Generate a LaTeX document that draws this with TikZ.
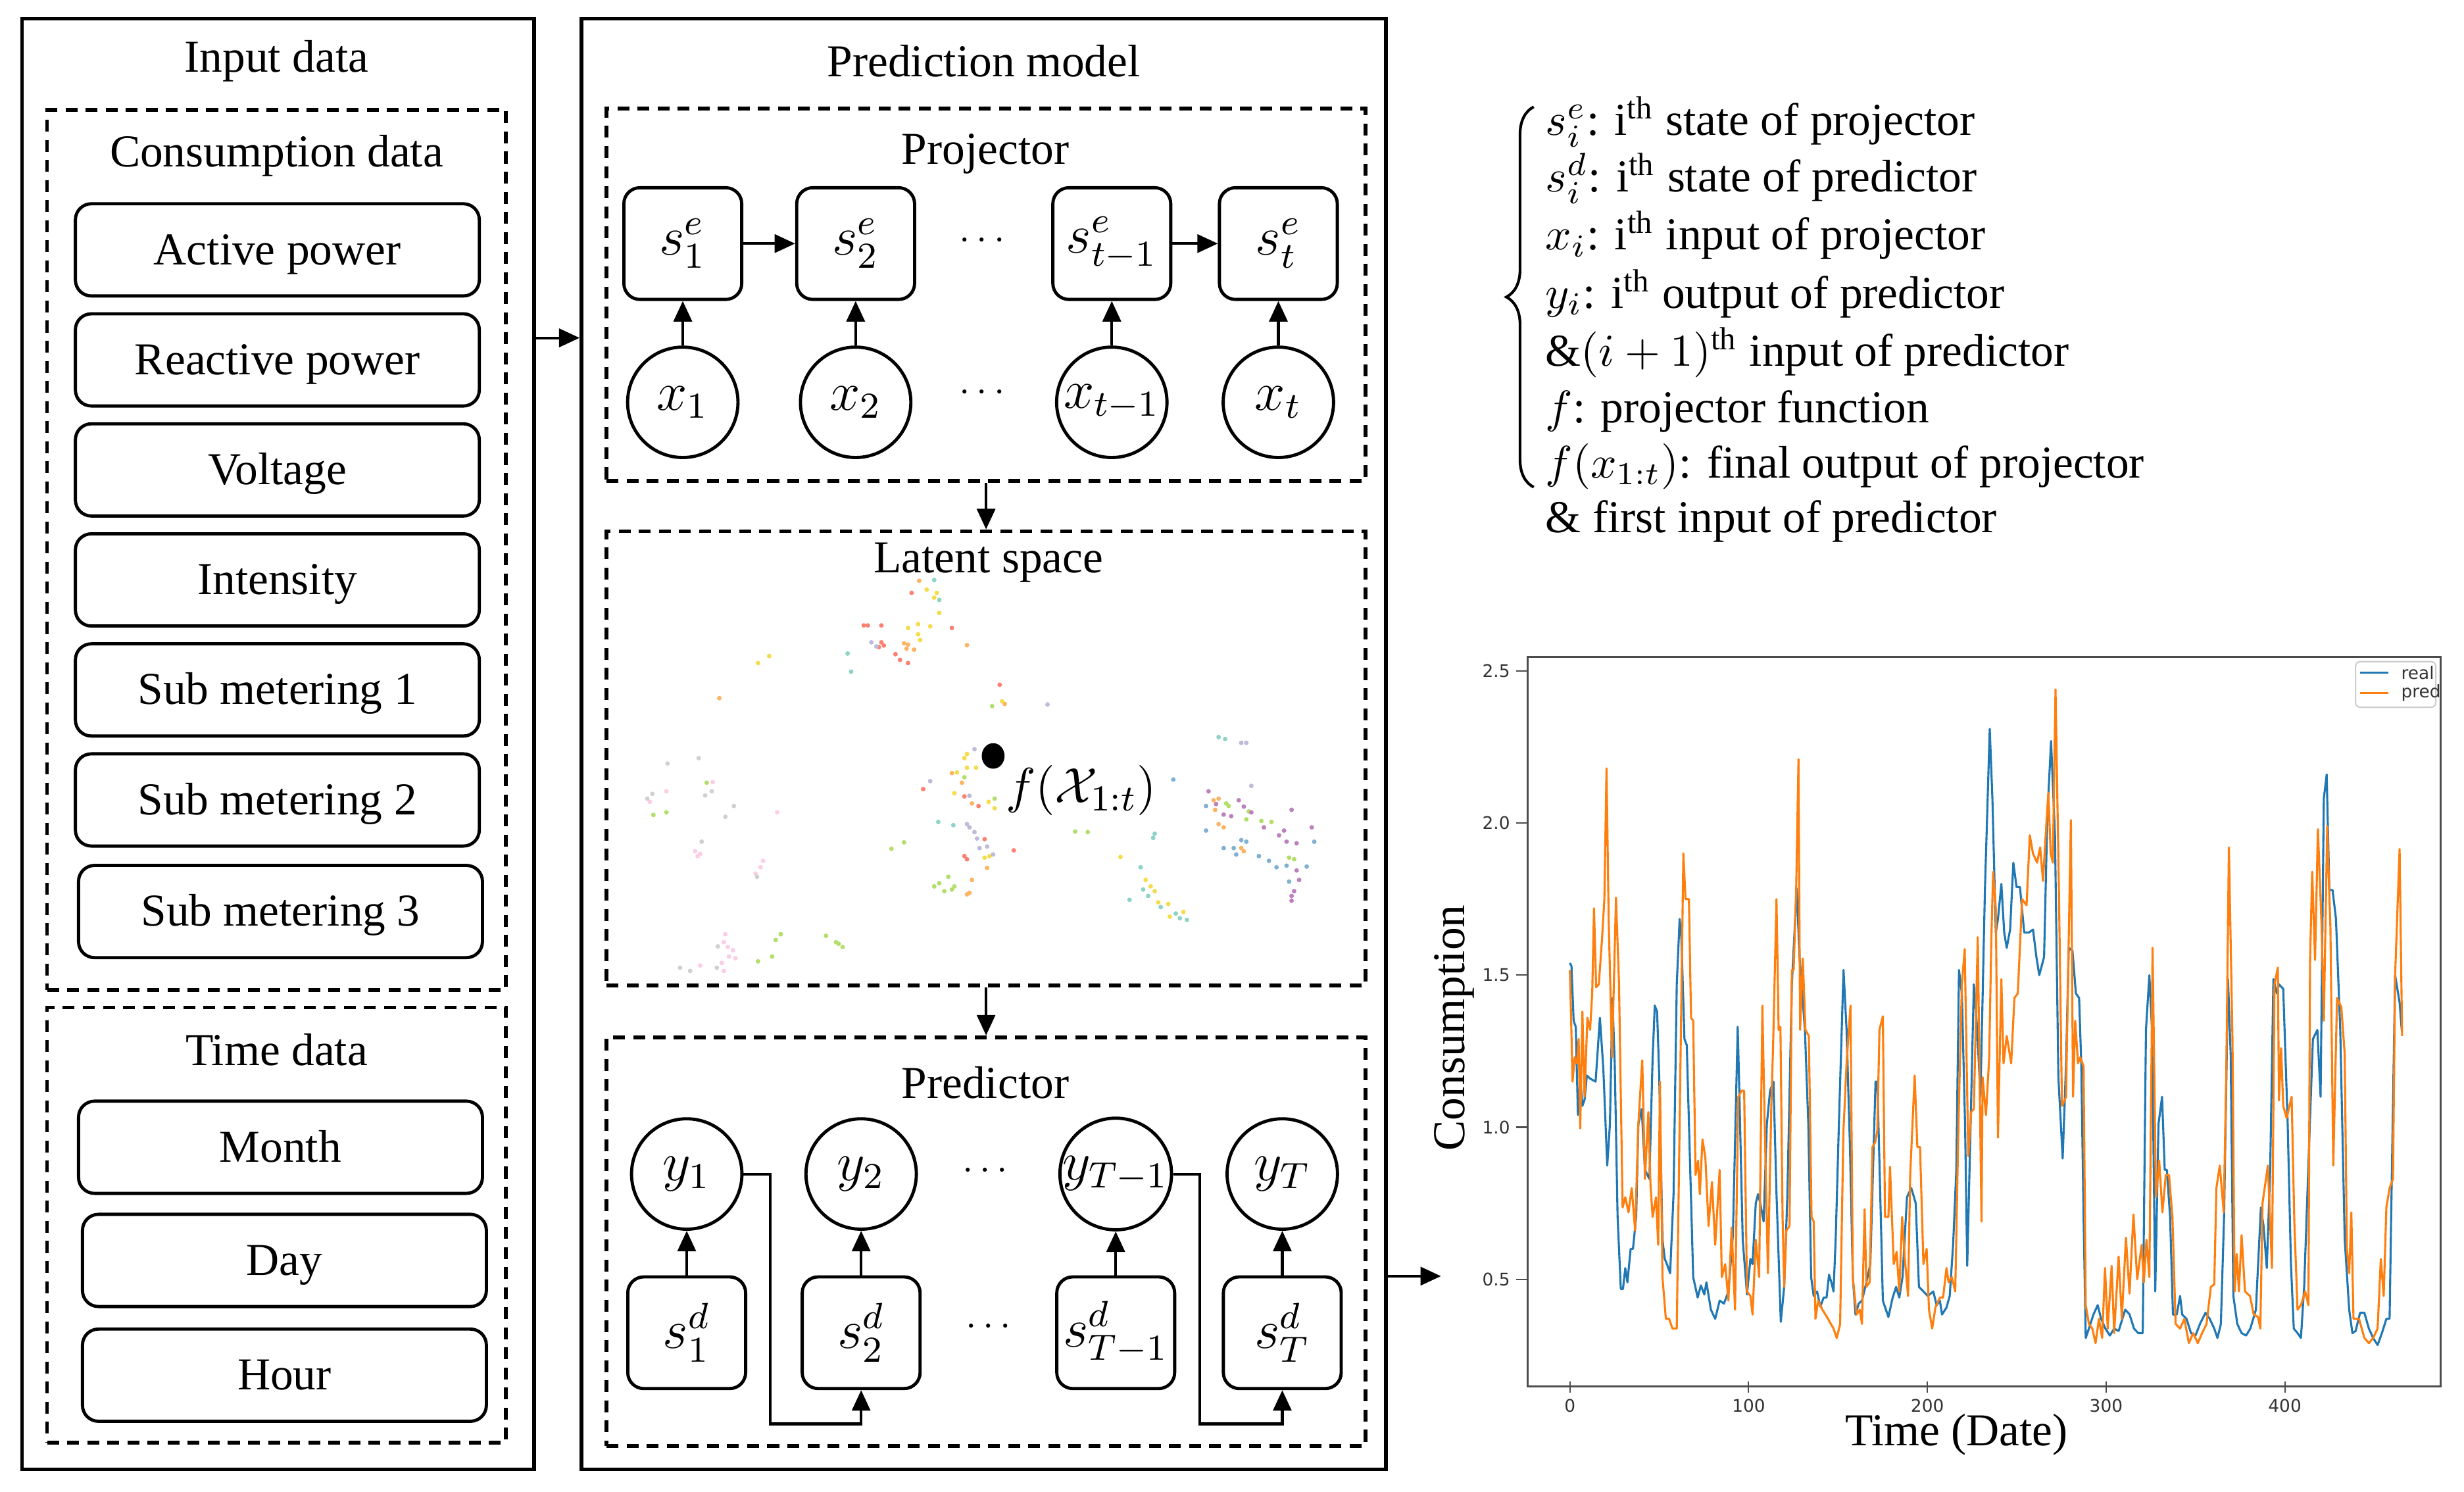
\documentclass[tikz,border=0pt]{standalone}
\usepackage{fontspec}
\setmainfont{Liberation Serif}
\newfontfamily\plotfont{DejaVu Sans}
\usepackage{tikz}
\usetikzlibrary{arrows.meta,decorations.pathreplacing,calc}
\definecolor{realblue}{HTML}{1F77B4}
\definecolor{predorange}{HTML}{FF7F0E}
\definecolor{ssalmon}{HTML}{FB8072}
\definecolor{sorange}{HTML}{FDB462}
\definecolor{syellow}{HTML}{F5DC4A}
\definecolor{steal}{HTML}{8DD3C7}
\definecolor{sgreen}{HTML}{B3DE69}
\definecolor{slavender}{HTML}{BEBADA}
\definecolor{spink}{HTML}{FCCDE5}
\definecolor{sgray}{HTML}{D0D0D0}
\definecolor{sblue}{HTML}{80B1D3}
\definecolor{spurple}{HTML}{BC80BD}
\tikzset{
  frame/.style={draw, line width=0.8pt, inner sep=0pt},
  dashbox/.style={draw, line width=0.8pt, dash pattern=on 2.6pt off 1.8pt, inner sep=0pt},
  item/.style={draw, line width=0.7pt, rounded corners=3.5pt, minimum width=3.11cm, minimum height=0.71cm, text height=8pt, text depth=1.6pt},
  state/.style={draw, line width=0.7pt, rounded corners=3.5pt, minimum width=0.9075cm, minimum height=0.86cm, inner sep=0pt, font=\fontsize{11.5}{13}\selectfont},
  unit/.style={draw, circle, line width=0.7pt, minimum size=0.85cm, inner sep=0pt, font=\fontsize{11.5}{13}\selectfont},
  arr/.style={-{Triangle[length=4.5pt,width=4pt]}, line width=0.6pt},
  dots/.style={font=\fontsize{8.5}{10}\selectfont},
  note/.style={anchor=base west, inner sep=0pt},
  tick/.style={font=\plotfont\fontsize{3.8}{4.2}\selectfont, text=black!80, inner sep=1.2pt}
}
\begin{document}
\begin{tikzpicture}[x=0.0121cm, y=-0.0121cm]
\fill[white] (0,0) rectangle (1568,949);
\useasboundingbox (0,0) rectangle (1568,949);

\node[frame, minimum width=3.9446cm, minimum height=11.168cm] (inbox) at (177,473.5) {};
\node[dashbox, minimum width=3.533cm, minimum height=6.776cm] (consbox) at (176,350) {};
\node[dashbox, minimum width=3.533cm, minimum height=3.352cm] (timebox) at (176,779.5) {};
\node[frame, minimum width=6.195cm, minimum height=11.168cm] (modelbox) at (626,473.5) {};
\node[dashbox, minimum width=5.844cm, minimum height=2.868cm] (projbox) at (627.5,187.5) {};
\node[dashbox, minimum width=5.844cm, minimum height=3.497cm] (latbox) at (627.5,482.5) {};
\node[dashbox, minimum width=5.844cm, minimum height=3.146cm] (predbox) at (627.5,790) {};

\node (intitle) at (176,39) {Input data};
\node (constitle) at (176,99) {Consumption data};
\node (timetitle) at (176,668) {Time data};
\node (modeltitle) at (626,39) {Prediction model};
\node (projtitle) at (627,98) {Projector};
\node (lattitle) at (629,358) {Latent space};
\node (predtitle) at (627,689) {Predictor};

\foreach \nm/\xx/\yy/\txt in {act/176.5/159/Active power, rea/176.5/229/Reactive power, vol/176.5/299/Voltage, ints/176.5/369/Intensity, sub1/176.5/439/Sub metering 1, sub2/176.5/509/Sub metering 2, sub3/178.5/580/Sub metering 3, mon/178.5/730/Month, day/181/802/Day, hour/181/875/Hour}
  \node[item] (\nm) at (\xx,\yy) {\txt};

\coordinate (feed) at (340,215);
\draw[arr] (feed) -- (feed -| modelbox.west);

\node[state] (se1) at (434.5,155) {$s_1^e$};
\node[state] (se2) at (544.5,155) {$s_2^e$};
\node[state] (se3) at (707.5,155) {$s_{t-1}^e$};
\node[state] (se4) at (813.5,155) {$s_t^e$};
\node[unit] (xin1) at (434.5,256) {$x_1$};
\node[unit] (xin2) at (544.5,256) {$x_2$};
\node[unit] (xin3) at (707.5,256) {$x_{t-1}$};
\node[unit] (xin4) at (813.5,256) {$x_t$};
\node[dots] (pdots1) at (625,153) {$\cdots$};
\node[dots] (pdots2) at (625,250) {$\cdots$};
\foreach \i in {1,...,4}
  \draw[arr] (xin\i.north) -- (se\i.south);
\draw[arr] (se1.east) -- (se2.west);
\draw[arr] (se3.east) -- (se4.west);

\draw[arr] (projbox.south) -- (latbox.north);
\draw[arr] (latbox.south) -- (predbox.north);

\begin{scope}[shift={(376.7,326.5)}, x=0.003876cm, y=-0.002455cm]
\foreach \p in {(635,250),(540,352),(548,352),(575,352),(715,360),(575,405),(570,420),(580,415),(603,442),(612,460),(628,470),(810,538),(658,865),(740,888),(768,918),(780,1022),(740,1075),(745,1085),(838,1057)}
  \fill[ssalmon] \p circle (0.5pt);
\foreach \p in {(650,212),(620,408),(628,412),(625,425),(640,428),(745,414),(253,580),(820,598),(715,815),(735,845),(755,910),(785,1112),(755,1150),(750,1190),(745,1195),(1245,895),(1235,900),(1238,930),(1245,975),(1255,985),(1290,1050),(1295,1060)}
  \fill[sorange] \p circle (0.5pt);
\foreach \p in {(665,240),(685,250),(680,265),(690,313),(628,360),(648,348),(672,355),(648,380),(652,398),(330,470),(352,448),(815,590),(745,755),(740,768),(745,798),(763,798),(725,813),(720,878),(788,905),(800,925),(780,1080),(790,1075),(1050,1078),(1100,1150),(1110,1170),(1118,1185),(1125,1220),(1145,1225),(1148,1265),(1175,1250)}
  \fill[syellow] \p circle (0.5pt);
\foreach \p in {(680,210),(690,272),(508,440),(515,497),(688,968),(718,978),(1245,702),(1258,708),(1118,1005),(1115,1018),(1090,1110),(1095,1180),(1105,1200),(1130,1235),(1160,1255),(1168,1270),(1182,1275),(1068,1212)}
  \fill[steal] \p circle (0.5pt);
\foreach \p in {(795,605),(740,828),(800,895),(595,1052),(620,1032),(708,1140),(690,1160),(680,1170),(700,1185),(715,1180),(720,1170),(228,845),(122,946),(148,938),(375,1320),(365,1338),(330,1405),(358,1390),(465,1325),(490,1350),(498,1360),(485,1345),(1260,910),(1265,918),(1305,935),(1300,960),(1330,965),(1350,968),(1385,1080),(1395,1085),(960,998),(985,1000)}
  \fill[sgreen] \p circle (0.5pt);
\foreach \p in {(555,405),(565,418),(905,600),(760,740),(672,840),(750,886),(745,975),(750,985),(760,1000),(765,1020),(770,1050),(785,1045),(797,1070),(1290,720),(1300,720),(1310,855)}
  \fill[slavender] \p circle (0.5pt);
\foreach \p in {(115,905),(148,872),(240,843),(368,938),(205,1060),(210,1075),(215,1068),(340,1090),(335,1110),(325,1130),(265,1320),(262,1345),(270,1360),(280,1370),(285,1395),(258,1410),(262,1435),(272,1390),(215,1418)}
  \fill[spink] \p circle (0.5pt);
\foreach \p in {(150,785),(212,768),(120,880),(110,895),(238,872),(225,885),(282,918),(265,952),(218,1030),(328,1140),(250,1358),(248,1425),(175,1425),(195,1435)}
  \fill[sgray] \p circle (0.5pt);
\foreach \p in {(1155,835),(1220,918),(1220,995),(1435,1030),(1290,1025),(1300,1030),(1255,1050),(1275,1050),(1280,1070),(1325,1075),(1345,1090),(1380,1105),(1420,1108),(1360,1110),(1385,1155)}
  \fill[sblue] \p circle (0.5pt);
\foreach \p in {(1225,872),(1285,900),(1240,912),(1295,920),(1310,938),(1255,945),(1270,950),(1335,985),(1390,930),(1375,995),(1430,985),(1365,1010),(1380,1030),(1400,1035),(1400,1120),(1405,1150),(1395,1185),(1390,1200),(1390,1215)}
  \fill[spurple] \p circle (0.5pt);
\end{scope}
\fill (632,481) ellipse (2.5pt and 2.8pt);
\node[font=\fontsize{11}{13}\selectfont] (flabel) at (688,503) {$f(\mathcal{X}_{1:t})$};

\node[unit] (yout1) at (437,747) {$y_1$};
\node[unit] (yout2) at (548,747) {$y_2$};
\node[unit] (yout3) at (710,747) {$y_{T-1}$};
\node[unit] (yout4) at (816,747) {$y_T$};
\node[state] (sd1) at (437,848) {$s_1^d$};
\node[state] (sd2) at (548,848) {$s_2^d$};
\node[state] (sd3) at (710,848) {$s_{T-1}^d$};
\node[state] (sd4) at (816,848) {$s_T^d$};
\node[dots] (ddots1) at (627,745) {$\cdots$};
\node[dots] (ddots2) at (629,844) {$\cdots$};
\foreach \i in {1,...,4}
  \draw[arr] (sd\i.north) -- (yout\i.south);
\draw[arr] (yout1.east) -- ++(17,0) -- ++(0,159) -| (sd2.south);
\draw[arr] (yout3.east) -- ++(17,0) -- ++(0,159) -| (sd4.south);

\draw[line width=0.6pt, decorate, decoration={brace, amplitude=6pt}] (976,310) -- (976,68);
\node[note] (n1) at (983,86) {$s_i^e$: i\textsuperscript{th} state of projector};
\node[note] (n2) at (983,122) {$s_i^d$: i\textsuperscript{th} state of predictor};
\node[note] (n3) at (983,159) {$x_i$: i\textsuperscript{th} input of projector};
\node[note] (n4) at (983,196) {$y_i$: i\textsuperscript{th} output of predictor};
\node[note] (n5) at (983,233) {\&$(i+1)$\textsuperscript{th} input of predictor};
\node[note] (n6) at (983,269) {$f$: projector function};
\node[note] (n7) at (983,304) {$f(x_{1:t})$: final output of projector};
\node[note] (n8) at (983,339) {\& first input of predictor};

\coordinate (chartin) at (917,812);
\draw[arr] (chartin -| modelbox.east) -- (chartin);

\draw[black!70, line width=0.4pt] (972,418) rectangle (1553,882);
\begin{scope}[shift={(999,910.75)}, x=0.013764cm, y=2.3414cm]
\foreach \v in {0.5,1.0,1.5,2.0,2.5}
  \draw[black!70, line width=0.3pt] (-23.7,\v) -- ++(-2.5pt,0) node[tick, left] {\v};
\foreach \t in {0,100,200,300,400}
  \draw[black!70, line width=0.3pt] (\t,0.164) -- ++(0,-2.5pt) node[tick, below] {\t};
\begin{scope}
\clip (-23.7,0.164) rectangle (487,2.55);
\draw[realblue, line width=0.45pt, line join=round] plot coordinates {(0,1.54) (0.9,1.53) (2.1,1.35) (3.3,1.33) (4.5,1.04) (5.8,1.165) (7,1.07) (8.2,1.09) (9.5,1.17) (11.3,1.16) (14.4,1.15) (16.8,1.36) (18.7,1.195) (20.9,0.874) (22.4,1.01) (23.8,1.425) (25.1,1.21) (26.7,0.705) (28.5,0.468) (29.7,0.468) (31,0.537) (32.2,0.49) (34,0.6) (35.3,0.6) (37.1,0.705) (38.3,1.01) (40.2,1.06) (42,0.86) (44.5,0.83) (46.3,1.23) (47.5,1.40) (48.8,1.38) (50,1.165) (51.8,0.63) (53.1,0.567) (54.3,0.55) (56.1,0.52) (58,0.78) (59.8,1.47) (61.4,1.685) (62.4,1.62) (64.1,1.29) (65.4,1.27) (69,0.507) (71.5,0.44) (73.3,0.48) (75.2,0.45) (76.4,0.49) (78.9,0.40) (81.3,0.37) (83.8,0.43) (86.2,0.42) (88.7,0.46) (91.2,0.645) (93.9,1.33) (94.8,1.12) (96.7,0.63) (99.1,0.45) (101,0.567) (102.2,0.55) (104,0.75) (105.3,0.78) (106.5,0.75) (108.4,0.69) (110.2,1.01) (112,1.12) (113.9,1.15) (115.6,0.78) (118,0.36) (119.9,0.475) (121.7,0.78) (124.2,1.47) (126.9,1.785) (128.5,1.56) (131.5,1.32) (133.4,1.01) (135,0.506) (136.4,0.445) (138.3,0.46) (140.1,0.41) (142,0.44) (143.6,0.44) (145,0.515) (146.3,0.49) (147.5,0.46) (148.7,0.63) (150.5,1.01) (153.1,1.517) (154.8,1.32) (156.7,0.935) (158.3,0.506) (159.8,0.384) (161.6,0.42) (163.4,0.43) (165.9,0.49) (168.1,0.55) (169.6,0.86) (171,1.15) (172,1.15) (173.3,0.86) (175.1,0.43) (178.2,0.376) (180.6,0.44) (182.5,0.475) (184.3,0.44) (186.1,0.507) (188.6,0.77) (191,0.80) (193.5,0.75) (195.3,0.475) (197.8,0.46) (200.2,0.445) (203.3,0.46) (205.2,0.415) (207,0.43) (208.2,0.384) (210.7,0.407) (212.5,0.445) (214.4,0.613) (216.2,0.86) (217.7,1.517) (219.3,1.44) (221.1,1.01) (222.3,0.544) (224.2,1.01) (226,1.47) (227.9,1.32) (229.7,1.10) (232.2,1.78) (234.9,2.31) (236.4,2.08) (238.3,1.64) (239.5,1.685) (241.4,1.80) (243,1.64) (244.4,1.59) (246.3,1.65) (248.1,1.87) (249.9,1.79) (251.8,1.79) (254.2,1.64) (256.7,1.64) (259.1,1.65) (261,1.56) (262.6,1.50) (265.3,1.56) (267.1,2.02) (269.2,2.27) (271.4,1.96) (273.3,1.165) (275.7,0.897) (277.6,1.21) (279.1,1.59) (281.2,1.58) (283.1,1.44) (284.9,1.425) (286.1,1.21) (287.4,0.705) (288.6,0.307) (290.4,0.338) (292.9,0.384) (295.3,0.415) (297.2,0.37) (299.6,0.338) (302.1,0.315) (304.5,0.338) (307,0.33) (310.7,0.40) (313.1,0.385) (315.6,0.338) (318,0.323) (320.5,0.323) (322.3,1.32) (324.2,1.50) (325.7,1.32) (327.5,0.46) (329.3,1.01) (331.3,1.10) (332.8,0.86) (334,0.86) (335.8,0.705) (337.4,0.384) (339.5,0.384) (341.4,0.445) (342.6,0.384) (345,0.37) (347.5,0.323) (350,0.315) (352.5,0.353) (355.6,0.39) (358,0.37) (360.5,0.338) (362.3,0.307) (364.2,0.353) (366,0.705) (368.2,1.487) (369.7,1.24) (371.2,0.445) (373.4,0.353) (375.8,0.323) (378.3,0.315) (380.7,0.338) (383.8,0.40) (386.6,0.736) (388.1,0.675) (389.9,0.537) (391.8,0.86) (393.6,1.487) (395.5,1.44) (396.7,1.47) (399.1,1.455) (401.6,1.01) (403.4,0.552) (405,0.338) (407.1,0.323) (409,0.307) (410.8,0.475) (413.9,0.996) (415.7,1.29) (418.2,1.32) (420,1.10) (421.8,2.08) (423.4,2.16) (424.9,1.78) (426.7,1.78) (428.6,1.685) (431,1.32) (433.5,0.63) (436,0.40) (437.8,0.323) (439.6,0.33) (442.1,0.39) (444.5,0.39) (447,0.338) (449.4,0.307) (451.9,0.284) (454.3,0.323) (456.8,0.37) (458.6,0.37) (459.9,0.86) (461.7,1.50) (464.2,1.41) (465.4,1.32)};
\draw[predorange, line width=0.45pt, line join=round] plot coordinates {(0,1.517) (0.6,1.38) (1.5,1.15) (2.7,1.23) (3.9,1.21) (4.9,1.29) (5.8,0.996) (7,1.38) (8.2,1.10) (9.8,1.36) (11.3,1.32) (12.5,1.44) (13.5,1.72) (14.7,1.46) (16.2,1.47) (18,1.62) (19.3,1.75) (20.5,2.18) (21.7,1.685) (23.6,1.23) (25.8,1.755) (27.5,1.47) (29.5,0.736) (31,0.77) (32.8,0.72) (34.6,0.80) (36.5,0.66) (38.3,1.01) (40.5,1.22) (42,0.83) (43.9,1.05) (45.1,0.81) (46.3,0.705) (48.2,0.77) (49.4,0.613) (50.4,1.15) (51.8,0.507) (53.7,0.37) (55.5,0.37) (57.4,0.338) (59.8,0.338) (61.4,1.01) (63.5,1.90) (64.7,1.75) (66.6,1.75) (67.8,1.36) (69,1.35) (70.3,0.843) (71.7,0.89) (72.7,0.78) (74.2,0.96) (75.8,0.90) (77.6,0.675) (79.5,0.82) (81.3,0.613) (83.8,0.86) (85,0.507) (86.9,0.55) (88.7,0.43) (90.5,0.67) (92.4,0.40) (94.2,1.10) (96.1,1.12) (97.5,1.12) (99.1,0.46) (101,0.445) (102.2,0.384) (104,0.63) (105.9,0.507) (107.7,1.40) (109,1.01) (110.8,0.52) (112.7,1.07) (113.7,1.27) (115.6,1.75) (116.8,1.32) (117.8,1.33) (119,0.705) (119.9,0.475) (121.1,0.66) (122.9,0.675) (124.2,1.517) (125.2,1.517) (126.6,1.78) (127.9,2.21) (128.8,1.32) (130.3,1.555) (131.8,1.32) (133.7,1.30) (135.2,0.705) (136.4,0.69) (137.4,0.37) (138.9,0.43) (141.3,0.40) (144.4,0.37) (147.5,0.338) (149.3,0.307) (151.2,0.353) (153,0.98) (154.8,1.21) (157,1.40) (158.3,0.506) (160.4,0.384) (162.2,0.40) (163.4,0.353) (164.9,0.73) (165.9,0.475) (167.7,0.49) (169.3,0.935) (170.8,0.95) (172,0.99) (173.2,1.32) (175.1,1.365) (176.3,0.705) (178.2,0.705) (179.1,0.87) (181.2,0.55) (182.8,0.59) (184.3,0.46) (185.9,0.705) (187.4,0.567) (189.2,0.445) (190.4,0.843) (192.9,1.17) (194.4,0.935) (195.9,0.935) (197.8,0.55) (199.6,0.60) (200.9,0.40) (202.7,0.338) (204.5,0.407) (207,0.44) (208.8,0.44) (210.7,0.537) (211.9,0.49) (213.7,0.507) (215.6,0.46) (217.4,1.01) (219.3,1.47) (220.9,1.586) (222.9,0.905) (224.5,1.05) (226,1.06) (228.2,1.625) (230.3,0.69) (230.9,1.165) (232.8,1.04) (234.6,1.23) (235.8,1.62) (236.8,1.84) (238.3,1.72) (239.5,0.966) (241.4,1.487) (242.6,1.21) (244.4,1.30) (246.9,1.21) (248.7,1.425) (250.6,1.44) (253,1.75) (255.5,1.73) (257.3,1.96) (259.1,1.90) (261.4,1.87) (263.1,1.92) (264.7,1.81) (266.5,1.99) (267.7,2.10) (269,1.90) (270.2,1.87) (271.7,2.44) (273.6,1.78) (275.3,1.07) (277.6,1.10) (279,1.59) (280.3,2.01) (281.5,1.10) (282.7,1.35) (284.3,1.21) (285.5,1.23) (287.4,1.20) (288.6,0.415) (290.4,0.353) (292.3,0.338) (294.1,0.29) (296,0.37) (297.8,0.307) (299.4,0.537) (300.9,0.338) (303.1,0.544) (304.5,0.323) (307,0.575) (308.8,0.37) (311.1,0.637) (313.1,0.453) (315.3,0.713) (317.4,0.50) (319.9,0.613) (321.1,0.49) (322.6,0.63) (324.2,0.507) (326,1.59) (327.9,0.77) (329.7,0.89) (331.5,0.72) (333.4,0.843) (335.2,0.843) (337.1,0.705) (338.9,0.353) (341.4,0.338) (343.8,0.37) (346.3,0.29) (348.7,0.323) (351.3,0.29) (353.7,0.323) (356.2,0.353) (358.6,0.475) (360.5,0.483) (361.7,0.80) (363.6,0.874) (365.8,0.72) (367.2,1.165) (368.7,1.92) (370.7,1.29) (371.9,0.46) (373.1,0.583) (374.3,0.46) (375.8,0.645) (377.7,0.46) (380.5,0.445) (382.6,0.384) (385,0.376) (386.3,0.338) (387.5,0.75) (390.5,0.874) (392.8,0.537) (394.2,1.47) (396.1,1.525) (396.7,1.088) (397.9,1.26) (399.1,1.07) (401,1.03) (403.8,1.10) (405.3,0.69) (407.1,0.40) (409,0.415) (411.4,0.46) (413.2,0.415) (414.1,1.55) (415.3,1.84) (416.9,1.55) (418.5,1.98) (420.6,1.655) (421.8,1.35) (423.7,1.99) (425.5,1.655) (427.1,0.874) (429.2,1.425) (431.6,1.395) (433.5,1.24) (434.7,0.60) (436,0.52) (437.2,0.72) (438.4,0.37) (441.5,0.37) (444.5,0.307) (447,0.29) (449.4,0.307) (451.9,0.338) (453.7,0.567) (455.3,0.445) (456.8,0.736) (458.6,0.80) (460.5,0.83) (461.7,1.50) (464.2,1.915) (465.6,1.30)};
\end{scope}
\end{scope}
\draw[black!20, fill=white, rounded corners=1pt, line width=0.3pt] (1499,421) rectangle (1550,450);
\draw[realblue, line width=0.5pt] (1502,428) -- (1520,428);
\draw[predorange, line width=0.5pt] (1502,441) -- (1520,441);
\node[tick, anchor=west] (lreal) at (1524,428) {real};
\node[tick, anchor=west] (lpred) at (1524,441) {pred};

\node[rotate=90] (ylab) at (925.5,654) {Consumption};
\node (xlab) at (1245,913) {Time (Date)};
\end{tikzpicture}
\end{document}
